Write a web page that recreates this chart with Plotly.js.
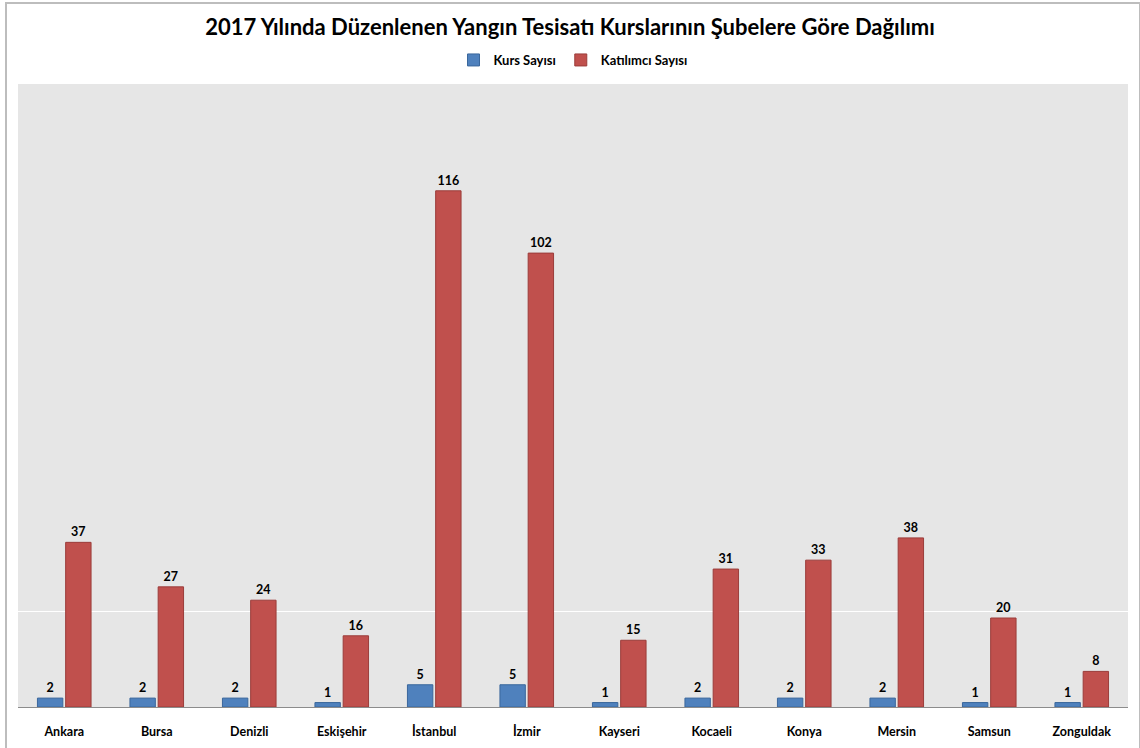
<!DOCTYPE html>
<html>
<head>
<meta charset="utf-8">
<script src="https://cdn.plot.ly/plotly-3.0.1.min.js"></script>
<style>
  body { margin: 0; background: #fff; }
  #wrap { position: relative; width: 1140px; height: 748px; }
  #frame { position: absolute; left: 5px; top: 2px; width: 1132px; height: 760px;
           border: 2px solid #bdbdbd; pointer-events: none; }
</style>
</head>
<body>
<div id="wrap">
  <div id="chart" style="width:1140px;height:748px;"></div>
  <div id="frame"></div>
</div>
<script>
var sehirler = ['Ankara', 'Bursa', 'Denizli', 'Eskişehir', 'İstanbul', 'İzmir',
  'Kayseri', 'Kocaeli', 'Konya', 'Mersin', 'Samsun', 'Zonguldak'];
var kursSayisi = [2, 2, 2, 1, 5, 5, 1, 2, 2, 2, 1, 1];
var katilimciSayisi = [37, 27, 24, 16, 116, 102, 15, 31, 33, 38, 20, 8];

var FONT = 'Lato, "Open Sans", Arial, sans-serif';

var kurs = {
  x: sehirler,
  y: kursSayisi,
  name: 'Kurs Sayısı',
  type: 'bar',
  marker: { color: '#4f81bd', line: { color: '#3a679c', width: 1 } },
  text: kursSayisi.map(String),
  textposition: 'outside',
  cliponaxis: false,
  textfont: { family: FONT, size: 12.5, color: '#000', weight: 'bold' }
};

var katilimci = {
  x: sehirler,
  y: katilimciSayisi,
  name: 'Katılımcı Sayısı',
  type: 'bar',
  marker: { color: '#c0504d', line: { color: '#9b3c3a', width: 1 } },
  text: katilimciSayisi.map(String),
  textposition: 'outside',
  cliponaxis: false,
  textfont: { family: FONT, size: 12.5, color: '#000', weight: 'bold' }
};

var layout = {
  width: 1140,
  height: 748,
  margin: { l: 18, r: 12, t: 84, b: 41 },
  paper_bgcolor: 'rgba(0,0,0,0)',
  plot_bgcolor: '#e6e6e6',
  font: { family: FONT, color: '#000' },
  title: {
    text: '<b>2017 Yılında Düzenlenen Yangın Tesisatı Kurslarının Şubelere Göre Dağılımı</b>',
    font: { family: FONT, size: 22, color: '#000' },
    x: 0.5, xanchor: 'center',
    yref: 'container', y: 1 - 27 / 748, yanchor: 'middle'
  },
  showlegend: true,
  legend: {
    orientation: 'h',
    x: 0.5, xanchor: 'center',
    y: 1 + 24 / 623, yanchor: 'middle',
    font: { family: FONT, size: 13, color: '#000', weight: 'bold' },
    itemwidth: 30,
    traceorder: 'normal'
  },
  barmode: 'group',
  bargap: 0.39,
  bargroupgap: 0.1,
  xaxis: {
    showline: true, linecolor: '#8c8c8c', linewidth: 1,
    ticks: '', showgrid: false,
    ticklabelstandoff: 13,
    tickfont: { family: FONT, size: 12.5, color: '#000', weight: 'bold' }
  },
  yaxis: {
    range: [0, 140],
    tickvals: [21.5],
    showticklabels: false,
    showgrid: true, gridcolor: '#ffffff', gridwidth: 1,
    zeroline: false, showline: false, ticks: ''
  }
};

Plotly.newPlot('chart', [kurs, katilimci], layout, { displayModeBar: false, staticPlot: true });
</script>
</body>
</html>
